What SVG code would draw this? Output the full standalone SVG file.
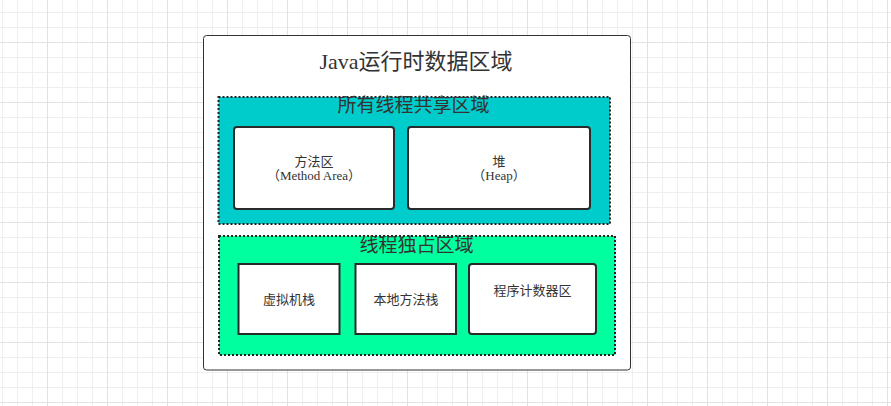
<svg xmlns="http://www.w3.org/2000/svg" width="891" height="406" viewBox="0 0 891 406">
<defs>
<pattern id="grid" width="60" height="60" x="47" y="42" patternUnits="userSpaceOnUse">
<path d="M15.5 0V60M30.5 0V60M45.5 0V60M0 15.5H60M0 30.5H60M0 45.5H60" stroke="#efefef" stroke-width="1" fill="none"/>
<path d="M0.5 0V60M0 0.5H60" stroke="#e2e2e2" stroke-width="1" fill="none"/>
</pattern>
<style>
.t{font-family:"Liberation Serif","Noto Sans CJK SC",serif;fill:#333;text-anchor:middle}
.region{stroke:#222;stroke-width:2;stroke-dasharray:2 2}
.box{fill:#fff;stroke:#2a2a2a;stroke-width:2}
</style>
</defs>
<rect width="891" height="406" fill="#fff"/>
<rect width="891" height="406" fill="url(#grid)"/>
<g id="outer">
<rect x="203.5" y="35.5" width="427" height="334.5" rx="3" fill="#fff" stroke="#333" stroke-width="1"/>
<text class="t" x="416" y="69" font-size="22">Java运行时数据区域</text>
</g>
<g id="shared">
<rect class="region" x="218.5" y="97" width="391.5" height="127" fill="#00cccc"/>
<text class="t" x="413.5" y="112" font-size="19">所有线程共享区域</text>
</g>
<g id="method-area">
<rect class="box" x="234" y="127" width="160" height="82" rx="3"/>
<text class="t" x="314" y="166" font-size="13">方法区</text>
<text class="t" x="314" y="180" font-size="13">（Method Area）</text>
</g>
<g id="heap">
<rect class="box" x="408" y="127" width="182" height="82" rx="3"/>
<text class="t" x="499" y="166" font-size="13">堆</text>
<text class="t" x="499" y="180" font-size="13">（Heap）</text>
</g>
<g id="exclusive">
<rect class="region" x="219" y="236" width="396" height="119" fill="#00ff9f"/>
<text class="t" x="416.5" y="252" font-size="19">线程独占区域</text>
</g>
<g id="vm-stack">
<rect class="box" x="238.5" y="264" width="101" height="70"/>
<text class="t" x="289" y="304" font-size="13">虚拟机栈</text>
</g>
<g id="native-stack">
<rect class="box" x="355.5" y="264" width="100.5" height="70"/>
<text class="t" x="406" y="304" font-size="13">本地方法栈</text>
</g>
<g id="pc-register">
<rect class="box" x="469" y="264" width="127" height="70" rx="3"/>
<text class="t" x="532.5" y="295" font-size="13">程序计数器区</text>
</g>
<g id="connectors"/>
</svg>
